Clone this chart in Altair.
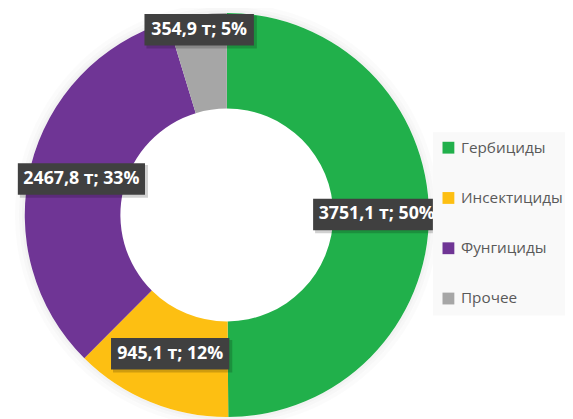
import altair as alt
import pandas as pd

categories = ["Гербициды", "Инсектициды", "Фунгициды", "Прочее"]
tonnes = [3751.1, 945.1, 2467.8, 354.9]
percents = [50, 12, 33, 5]
colors = ["#21B04B", "#FDBF12", "#6F3595", "#A6A6A6"]

labels = [f"{str(t).replace('.', ',')} т; {p}%" for t, p in zip(tonnes, percents)]
df = pd.DataFrame({"cat": categories, "t": tonnes, "label": labels, "idx": list(range(len(categories)))})

CX, CY = 222, 207
R_OUT, R_IN = 205, 108

base = alt.Chart(df)

color = alt.Color(
    "cat:N",
    scale=alt.Scale(domain=categories, range=colors),
    sort=categories,
    legend=alt.Legend(
        orient="none", legendX=431, legendY=123, title=None,
        symbolType="square", symbolSize=144, symbolStrokeWidth=0,
        labelFont="Open Sans", labelFontSize=15.5, labelColor="#595959",
        labelOffset=5, rowPadding=34, padding=8,
        fillColor="#f9f9f9",
    ),
)

theta = alt.Theta("t:Q", stack=True)
order = alt.Order("idx:Q")

shadows = []
for r0, r1, op in [(R_OUT, R_OUT + 3, 0.05), (R_OUT + 3, R_OUT + 6, 0.03), (R_OUT + 6, R_OUT + 10, 0.015)]:
    shadows.append(
        base.mark_arc(innerRadius=r0, outerRadius=r1, color="#000000", opacity=op).encode(
            theta=theta, order=order, x=alt.value(CX), y=alt.value(CY)
        )
    )

arcs = base.mark_arc(innerRadius=R_IN, outerRadius=R_OUT).encode(
    theta=theta, color=color, order=order, x=alt.value(CX), y=alt.value(CY)
)

pos = (
    base.transform_joinaggregate(total="sum(t)")
    .transform_window(cum="sum(t)", sort=[alt.SortField("idx")], frame=[None, 0])
    .transform_calculate(
        mid="(datum.cum - datum.t/2)/datum.total*2*PI",
        r="datum.t/datum.total < 0.08 ? 190 : 152",
    )
    .transform_calculate(
        px=f"{CX} + datum.r*sin(datum.mid)",
        py=f"{CY} - datum.r*cos(datum.mid)",
        w="length(datum.label)*9+12",
    )
    .transform_calculate(
        x1="datum.px - datum.w/2",
        x2="datum.px + datum.w/2",
        y1="datum.py - 16",
        y2="datum.py + 16",
        sx1="datum.px - datum.w/2 + 2",
        sx2="datum.px + datum.w/2 + 3",
        sy1="datum.py - 16 + 2",
        sy2="datum.py + 16 + 3",
    )
)

box_shadow = pos.mark_rect(color="#000000", opacity=0.18).encode(
    x=alt.X("sx1:Q", scale=None, axis=None),
    x2="sx2:Q",
    y=alt.Y("sy1:Q", scale=None, axis=None),
    y2="sy2:Q",
)

boxes = pos.mark_rect(color="#404040").encode(
    x=alt.X("x1:Q", scale=None, axis=None),
    x2="x2:Q",
    y=alt.Y("y1:Q", scale=None, axis=None),
    y2="y2:Q",
)

texts = pos.mark_text(
    font="Open Sans", fontSize=18, fontWeight="bold", color="#ffffff",
    align="center", baseline="middle",
).encode(
    x=alt.X("px:Q", scale=None, axis=None),
    y=alt.Y("py:Q", scale=None, axis=None),
    text="label:N",
)

chart = (
    alt.layer(*shadows, arcs, box_shadow, boxes, texts)
    .properties(width=565, height=411, autosize="none", padding=0)
    .configure_view(stroke=None)
)

chart.save("out.html", embed_options={"renderer": "svg", "actions": False})
